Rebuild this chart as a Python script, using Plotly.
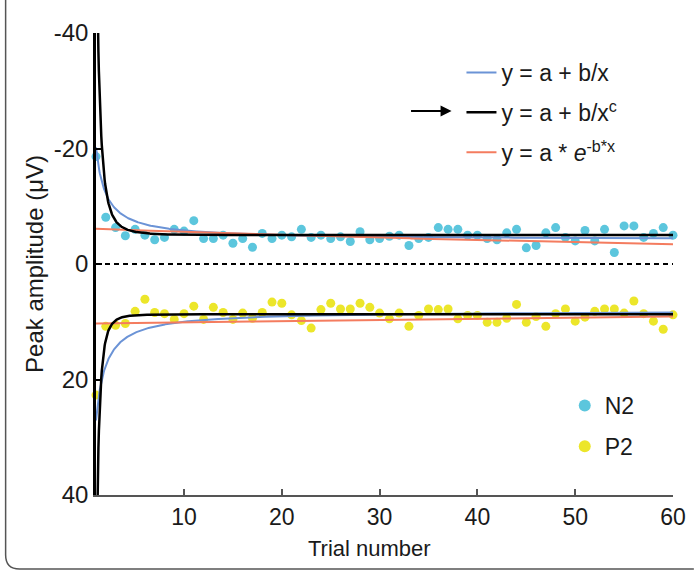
import numpy as np
import plotly.graph_objects as go

# ---------------- data ----------------
trials = list(range(1, 61))
n2 = [-18.6, -8.1, -6.3, -4.9, -6.0, -5.0, -4.2, -4.6, -6.0, -5.7,
      -7.5, -4.4, -4.4, -5.0, -3.6, -4.4, -2.9, -5.3, -4.4, -5.0,
      -4.7, -6.0, -4.6, -5.0, -4.4, -4.7, -3.9, -5.6, -4.2, -4.4,
      -4.8, -5.0, -3.2, -4.4, -4.6, -6.3, -6.0, -6.0, -5.0, -5.0,
      -4.4, -4.2, -5.4, -6.0, -2.8, -3.2, -5.4, -6.3, -4.6, -4.0,
      -5.8, -4.0, -6.0, -2.0, -6.6, -6.6, -4.6, -5.3, -6.3, -5.0]
p2 = [22.7, 10.8, 10.6, 10.3, 8.2, 6.1, 8.4, 8.6, 9.6, 8.6,
      7.3, 9.6, 7.5, 8.4, 9.6, 8.5, 9.4, 8.4, 6.6, 6.8,
      8.8, 9.8, 11.1, 7.9, 6.8, 7.8, 7.8, 6.8, 7.5, 8.5,
      9.5, 8.5, 10.8, 8.9, 7.8, 7.9, 7.8, 9.5, 8.9, 8.9,
      10.1, 10.1, 9.4, 7.0, 10.1, 9.1, 10.8, 8.6, 7.8, 9.9,
      9.2, 8.2, 7.8, 7.8, 8.5, 6.4, 8.6, 9.9, 11.3, 8.8]

# fitted model parameters
n2_hyper = dict(a=-4.2, b=-16.0)            # y = a + b/x
n2_power = dict(a=-5.0, b=-60.0, c=2.9)     # y = a + b/x^c
n2_expo = dict(a=-6.16, b=0.0099)           # y = a * exp(-b*x)
p2_hyper = dict(a=8.1, b=19.0)
p2_power = dict(a=8.7, b=50.0, c=3.5)
p2_expo = dict(a=10.32, b=0.0021)

legend_names = ["y = a + b/x", "y = a + b/x<sup>c</sup>", "y = a * <i>e</i><sup>-b*x</sup>"]
y_ticks = [-40, -20, 0, 20, 40]
y_ticktext = ["-40", "-20", "0", "20", "40"]
x_ticks = [10, 20, 30, 40, 50, 60]
x_title = "Trial number"
y_title = "Peak amplitude (μV)"

# ---------------- styles ----------------
FONT = "Liberation Sans, Arial, sans-serif"
TXT = "#1a1a1a"
C_BLUE = "#6b93d6"
C_BLACK = "#000000"
C_RED = "#f47c5f"
C_N2 = "#5cc6dd"
C_P2 = "#ece62a"

W, H = 698, 571
ML, MR, MT, MB = 96, 21, 33, 76
PW, PH = W - ML - MR, H - MT - MB


def px(x):
    return (x - ML) / PW


def py(y):
    return (H - MB - y) / PH


xs = np.linspace(1, 60, 1200)


def hyper(p):
    return p["a"] + p["b"] / xs


def power(p):
    return p["a"] + p["b"] / xs ** p["c"]


def expo(p):
    return p["a"] * np.exp(-p["b"] * xs)


fig = go.Figure()

# scatter points
fig.add_trace(go.Scatter(x=trials, y=n2, mode="markers", name="N2",
                         marker=dict(color=C_N2, size=9), cliponaxis=False,
                         legend="legend2", legendgroup="n2", legendrank=1))
fig.add_trace(go.Scatter(x=trials, y=p2, mode="markers", name="P2",
                         marker=dict(color=C_P2, size=9), cliponaxis=False,
                         legend="legend2", legendgroup="p2", legendrank=2))

# fitted curves
for fits, show in (((n2_hyper, n2_power, n2_expo), True), ((p2_hyper, p2_power, p2_expo), False)):
    h, pw, e = fits
    fig.add_trace(go.Scatter(x=xs, y=hyper(h), mode="lines", name=legend_names[0],
                             line=dict(color=C_BLUE, width=2), showlegend=show,
                             legendgroup="g1", legendrank=1))
    fig.add_trace(go.Scatter(x=xs, y=expo(e), mode="lines", name=legend_names[2],
                             line=dict(color=C_RED, width=2), showlegend=show,
                             legendgroup="g3", legendrank=3))
    fig.add_trace(go.Scatter(x=xs, y=power(pw), mode="lines", name=legend_names[1],
                             line=dict(color=C_BLACK, width=2.5), showlegend=show,
                             legendgroup="g2", legendrank=2))

# zero line
fig.add_hline(y=0, line=dict(color="black", width=2, dash="5px,4px"))

# arrow pointing at black-curve legend item
fig.add_annotation(xref="paper", yref="paper", x=px(454), y=py(111), ax=-42, ay=0,
                   text="", showarrow=True, arrowhead=2, arrowsize=1.1, arrowwidth=2,
                   arrowcolor="black")

# x-axis title
fig.add_annotation(xref="paper", yref="paper", x=px(371), y=py(548), text=x_title,
                   showarrow=False, xanchor="center", yanchor="middle",
                   font=dict(size=22, color=TXT, family=FONT))

# panel frame (left + bottom edges with rounded corner)
x0, y0 = px(5), py(0)
yb = py(569)
r_x, r_y = 14 / PW, 14 / PH
fig.add_shape(type="path", xref="paper", yref="paper",
              path=f"M {x0},{y0} L {x0},{yb + r_y} Q {x0},{yb} {x0 + r_x},{yb} L {px(698)},{yb}",
              line=dict(color="#555555", width=1.5))

fig.update_layout(
    width=W, height=H,
    margin=dict(l=ML, r=MR, t=MT, b=MB),
    paper_bgcolor="white", plot_bgcolor="white",
    font=dict(family=FONT, color=TXT, size=22),
    xaxis=dict(range=[1, 60], tickvals=x_ticks, showgrid=False, zeroline=False,
               showline=True, linecolor="#555555", linewidth=2,
               ticks="inside", ticklen=6, tickwidth=2, tickcolor="#555555",
               tickfont=dict(size=23)),
    yaxis=dict(range=[40, -40], tickvals=y_ticks, ticktext=y_ticktext,
               showgrid=False, zeroline=False,
               showline=True, linecolor="black", linewidth=2.5,
               ticks="inside", ticklen=6, tickwidth=2, tickcolor="black",
               tickfont=dict(size=24),
               title=dict(text=y_title, font=dict(size=24), standoff=4)),
    legend=dict(x=px(464), y=py(51), xanchor="left", yanchor="top",
                bgcolor="rgba(0,0,0,0)", font=dict(size=23), tracegroupgap=7,
                itemwidth=30),
    legend2=dict(x=px(568), y=py(384), xanchor="left", yanchor="top",
                 bgcolor="rgba(0,0,0,0)", font=dict(size=23), tracegroupgap=8,
                 itemwidth=30, itemsizing="constant"),
    showlegend=True,
)

fig.write_html("out.html")
